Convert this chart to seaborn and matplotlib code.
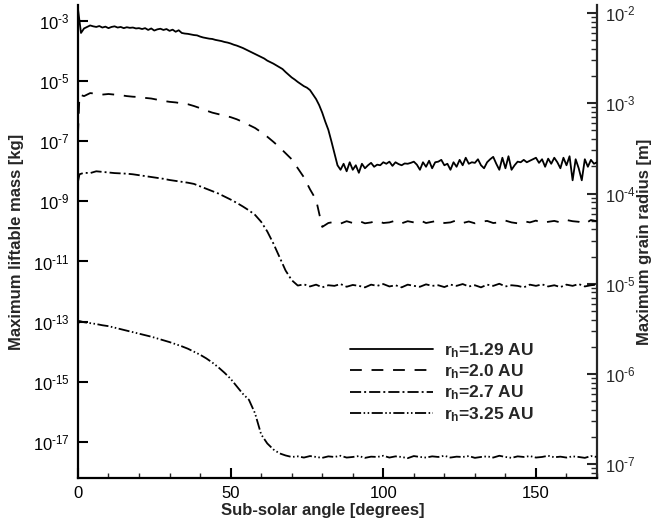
import numpy as np
import pandas as pd
import matplotlib
matplotlib.use("Agg")
import matplotlib.pyplot as plt
import seaborn as sns
from matplotlib.lines import Line2D
from matplotlib.ticker import FixedLocator, FuncFormatter, LogLocator, NullLocator, MultipleLocator, NullFormatter

# Sub-solar angle grids [degrees]
angle_fine = np.arange(0, 171)
angle_coarse = np.concatenate([[0, 0.5], np.arange(2, 171, 2)])

# log10 of maximum liftable mass [kg]
logm_129 = [
    -2.6, -3.4, -3.25, -3.2, -3.15, -3.18, -3.2, -3.17, -3.22, -3.19,
    -3.24, -3.2, -3.18, -3.22, -3.2, -3.24, -3.21, -3.23, -3.22, -3.25,
    -3.24, -3.27, -3.24, -3.3, -3.25, -3.32, -3.28, -3.26, -3.3, -3.27,
    -3.33, -3.29, -3.36, -3.31, -3.4, -3.42, -3.43, -3.45, -3.47, -3.48,
    -3.52, -3.55, -3.57, -3.59, -3.6, -3.63, -3.65, -3.67, -3.7, -3.72,
    -3.75, -3.79, -3.82, -3.86, -3.9, -3.95, -4.0, -4.05, -4.1, -4.15,
    -4.2, -4.25, -4.32, -4.37, -4.42, -4.48, -4.54, -4.6, -4.7, -4.79,
    -4.88, -4.95, -5.03, -5.1, -5.17, -5.22, -5.3, -5.45, -5.6, -5.8,
    -6.05, -6.35, -6.62, -7.0, -7.4, -7.8, -7.95, -7.75, -8.0, -7.7,
    -7.95, -7.8, -8.05, -7.75, -7.9, -7.8, -7.72, -7.85, -7.78, -7.8,
    -7.7, -7.75, -7.68, -7.82, -7.7, -7.76, -7.8, -7.74, -7.75, -7.72,
    -7.68, -7.78, -7.95, -7.7, -7.85, -7.65, -7.9, -7.7, -7.68, -7.62,
    -7.8, -7.75, -7.95, -7.7, -7.85, -7.62, -7.8, -7.55, -7.75, -7.7,
    -7.72, -7.6, -7.8, -7.9, -7.7, -7.6, -7.52, -7.75, -7.95, -7.55,
    -7.9, -7.5, -7.95, -7.8, -7.68, -7.7, -7.62, -7.7, -7.65, -7.6,
    -7.55, -7.72, -7.6, -7.85, -7.58, -7.75, -7.55, -7.7, -7.9, -7.55,
    -7.8, -7.5, -8.3, -7.6, -7.9, -8.3, -7.6, -7.85, -7.62, -7.75,
    -7.7,
]

logm_20 = [
    -6.8, -5.45,
    -5.5, -5.4, -5.42, -5.45, -5.43, -5.45, -5.47, -5.5, -5.52, -5.53,
    -5.56, -5.58, -5.62, -5.66, -5.69, -5.71, -5.74, -5.77, -5.83, -5.9,
    -5.98, -6.05, -6.1, -6.15, -6.2, -6.27, -6.36, -6.46, -6.56, -6.7,
    -6.85, -7.02, -7.2, -7.4, -7.6, -7.9, -8.2, -8.6, -8.95, -9.85,
    -9.72, -9.68, -9.74, -9.66, -9.72, -9.65, -9.73, -9.7, -9.64, -9.72,
    -9.7, -9.64, -9.73, -9.66, -9.7, -9.63, -9.72, -9.68, -9.64, -9.72,
    -9.7, -9.63, -9.72, -9.67, -9.73, -9.68, -9.65, -9.72, -9.7, -9.64,
    -9.7, -9.73, -9.66, -9.7, -9.64, -9.72, -9.68, -9.65, -9.7, -9.62,
    -9.66, -9.68, -9.75, -9.62, -9.66,
]

logm_27 = [
    -8.35, -8.1,
    -8.05, -8.06, -8.0, -8.02, -8.04, -8.06, -8.07, -8.08, -8.1, -8.13,
    -8.16, -8.19, -8.22, -8.25, -8.29, -8.32, -8.35, -8.38, -8.42, -8.5,
    -8.58, -8.66, -8.74, -8.84, -8.94, -9.05, -9.17, -9.3, -9.45, -9.68,
    -10.0, -10.4, -10.85, -11.3, -11.62, -11.8, -11.76, -11.83, -11.77, -11.86,
    -11.79, -11.81, -11.75, -11.84, -11.78, -11.81, -11.86, -11.77, -11.81, -11.75,
    -11.83, -11.79, -11.86, -11.77, -11.81, -11.84, -11.76, -11.81, -11.79, -11.85,
    -11.77, -11.81, -11.75, -11.83, -11.79, -11.86, -11.77, -11.81, -11.74, -11.83,
    -11.79, -11.81, -11.86, -11.77, -11.81, -11.76, -11.83, -11.79, -11.85, -11.77,
    -11.81, -11.75, -11.83, -11.79, -11.77,
]

logm_325 = [
    -13.08, -12.98,
    -13.02, -13.05, -13.08, -13.12, -13.15, -13.2, -13.25, -13.3, -13.35, -13.4,
    -13.45, -13.5, -13.56, -13.62, -13.68, -13.75, -13.82, -13.9, -14.0, -14.1,
    -14.22, -14.36, -14.52, -14.7, -14.9, -15.15, -15.4, -15.6, -16.05, -16.75,
    -17.05, -17.25, -17.38, -17.45, -17.5, -17.48, -17.52, -17.47, -17.5, -17.53,
    -17.48, -17.5, -17.46, -17.52, -17.5, -17.47, -17.53, -17.49, -17.5, -17.46,
    -17.52, -17.48, -17.5, -17.54, -17.47, -17.5, -17.52, -17.48, -17.5, -17.46,
    -17.52, -17.49, -17.5, -17.47, -17.53, -17.5, -17.48, -17.52, -17.46, -17.5,
    -17.53, -17.48, -17.5, -17.47, -17.52, -17.5, -17.46, -17.51, -17.49, -17.52,
    -17.48, -17.5, -17.53, -17.47, -17.5,
]

series_labels = ["r$_{h}$=1.29 AU", "r$_{h}$=2.0 AU", "r$_{h}$=2.7 AU", "r$_{h}$=3.25 AU"]
left_exponents = [-3, -5, -7, -9, -11, -13, -15, -17]
right_exponents = [-2, -3, -4, -5, -6, -7]

# conversion between mass and grain radius: m = (4/3) pi rho r^3
MASS_COEFF = 10 ** 3.26

# line patterns in points
dash_styles = {
    series_labels[0]: "",
    series_labels[1]: (8.5, 7.0),
    series_labels[2]: (8.0, 2.2, 1.4, 2.2),
    series_labels[3]: (8.0, 1.8, 1.1, 1.8, 1.1, 1.8),
}

frames = []
for lab, ang, lm in zip(series_labels,
                        [angle_fine, angle_coarse, angle_coarse, angle_coarse],
                        [logm_129, logm_20, logm_27, logm_325]):
    frames.append(pd.DataFrame({"angle": ang, "mass": 10.0 ** np.asarray(lm), "series": lab}))
df = pd.concat(frames, ignore_index=True)

sns.set_style("ticks")
plt.rcParams.update({
    "font.family": ["Liberation Sans", "DejaVu Sans"],
    "mathtext.default": "regular",
    "lines.scale_dashes": False,
})


def power_label(v, pos=None):
    # "10" with a short hyphen in the superscript exponent
    e = int(round(np.log10(v)))
    return r"$10^{%s%d}$" % ("\u2010" if e < 0 else "", abs(e))


fig = plt.figure(figsize=(6.55, 5.25), dpi=100)
ax = fig.add_axes([0.119, 0.0895, 0.7925, 0.901])

sns.lineplot(data=df, x="angle", y="mass", style="series", style_order=series_labels,
             dashes=dash_styles, color="black", linewidth=1.3, estimator=None,
             sort=False, legend=False, ax=ax)

ax.set_yscale("log")
ax.set_xlim(0, 170)
ax.set_ylim(10 ** -18.2, 10 ** -2.47)

ax.xaxis.set_major_locator(MultipleLocator(50))
ax.xaxis.set_minor_locator(MultipleLocator(10))
ax.yaxis.set_major_locator(FixedLocator([10.0 ** e for e in left_exponents]))
ax.yaxis.set_minor_locator(NullLocator())
ax.yaxis.set_major_formatter(FuncFormatter(power_label))

ax.tick_params(axis="both", which="major", direction="in", length=7.5, width=1.5,
               labelsize=12, pad=6, colors="black")
ax.tick_params(axis="x", which="minor", direction="in", length=3.5, width=1.0)
ax.tick_params(axis="y", which="both", right=False)
ax.tick_params(axis="x", which="both", top=False)

for side in ["left", "bottom"]:
    ax.spines[side].set_linewidth(1.6)
    ax.spines[side].set_color("black")
ax.spines["top"].set_visible(False)
ax.spines["right"].set_visible(False)

ax.set_xlabel("Sub-solar angle [degrees]", fontsize=12, fontweight="bold")
ax.set_ylabel("Maximum liftable mass [kg]", fontsize=12, fontweight="bold")
ax.xaxis.set_label_coords(0.472, -0.052)
ax.yaxis.set_label_coords(-0.103, 0.5)


def mass_to_radius(m):
    return np.cbrt(np.asarray(m, dtype=float) / MASS_COEFF)


def radius_to_mass(r):
    return MASS_COEFF * np.asarray(r, dtype=float) ** 3


sec = ax.secondary_yaxis("right", functions=(mass_to_radius, radius_to_mass))
sec.yaxis.set_major_locator(FixedLocator([10.0 ** e for e in right_exponents]))
sec.yaxis.set_minor_locator(LogLocator(base=10, subs=np.arange(2, 10), numticks=50))
sec.yaxis.set_minor_formatter(NullFormatter())
sec.yaxis.set_major_formatter(FuncFormatter(power_label))
sec.tick_params(axis="y", which="major", direction="in", length=7.5, width=1.5,
                labelsize=12, pad=6)
sec.tick_params(axis="y", which="minor", direction="in", length=4, width=1.0)
sec.spines["right"].set_linewidth(1.6)
sec.set_ylabel("Maximum grain radius [m]", fontsize=12, fontweight="bold")
sec.yaxis.set_label_coords(0.972, 0.54, transform=fig.transFigure)

handles = [Line2D([], [], color="black", linewidth=1.3,
                  dashes=(dash_styles[lab] if dash_styles[lab] else (None, None)))
           for lab in series_labels]
handles[0].set_linestyle("-")
leg = ax.legend(handles, series_labels, loc="upper left",
                bbox_to_anchor=(350 / 655, 1 - 341 / 525), bbox_transform=fig.transFigure,
                frameon=False, borderpad=0, borderaxespad=0, handlelength=4.8,
                handletextpad=0.6, labelspacing=0.15, prop={"weight": "bold", "size": 12.5})

fig.savefig("out.png", dpi=100)
